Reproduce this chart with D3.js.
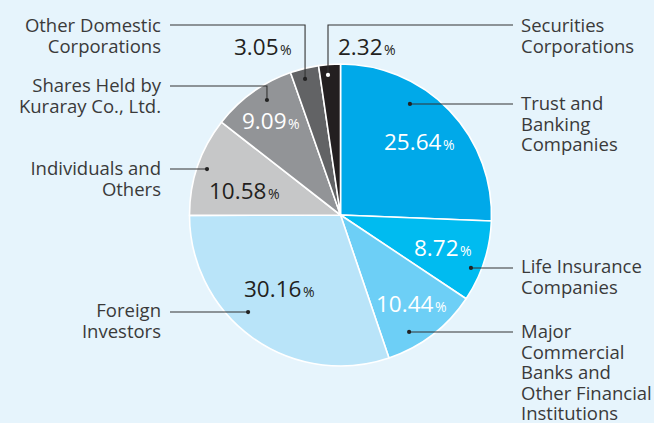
<!DOCTYPE html>
<html><head><meta charset="utf-8">
<script src="https://cdn.jsdelivr.net/npm/d3@7"></script>
<style>
html,body{margin:0;padding:0;background:#e6f4fc;}
svg{display:block;}
text{font-family:"Open Sans","Noto Sans",sans-serif;}
</style></head>
<body>
<svg id="chart" width="654" height="423"></svg>
<script>
// ---- data ----
const categories = [
  "Trust and Banking Companies",
  "Life Insurance Companies",
  "Major Commercial Banks and Other Financial Institutions",
  "Foreign Investors",
  "Individuals and Others",
  "Shares Held by Kuraray Co., Ltd.",
  "Other Domestic Corporations",
  "Securities Corporations"
];
const values = [25.64, 8.72, 10.44, 30.16, 10.58, 9.09, 3.05, 2.32];
const valueLabels = ["25.64", "8.72", "10.44", "30.16", "10.58", "9.09", "3.05", "2.32"];
const labelLines = [
  ["Trust and", "Banking", "Companies"],
  ["Life Insurance", "Companies"],
  ["Major", "Commercial", "Banks and", "Other Financial", "Institutions"],
  ["Foreign", "Investors"],
  ["Individuals and", "Others"],
  ["Shares Held by", "Kuraray Co., Ltd."],
  ["Other Domestic", "Corporations"],
  ["Securities", "Corporations"]
];
const colors = ["#00a9e9", "#00bbf0", "#6dcff6", "#b9e4f9", "#c6c7c8", "#929497", "#626365", "#231f20"];

// ---- layout (annotation positions) ----
const cx = 340.5, cy = 215, R = 151;
// dot polar positions: angle (deg, clockwise from top), radius
const dotPolar = [[32.0,131],[112.1,140.8],[149.6,135.6],[223.6,134],[289,141.2],[327.4,136.5],[345.4,140.6],[354.9,140.6]];
// label block: side, x, first baseline, leader y
const labelPos = [
  {side:"r", x:521, y:110, ly:104},
  {side:"r", x:521, y:273, ly:268},
  {side:"r", x:521, y:338, ly:332},
  {side:"l", x:161, y:317, ly:312},
  {side:"l", x:161, y:175, ly:169},
  {side:"l", x:161, y:92, ly:86},
  {side:"l", x:161, y:32, ly:25},
  {side:"r", x:521, y:32, ly:25}
];
// percent label: x, baseline, light text?
const pctPos = [[384,150,1],[414,256,1],[376,312,1],[244,297,0],[209,199,0],[242,129,1],[234,55,0],[338,55,0]];

const svg = d3.select("#chart");
const g = svg.append("g").attr("transform", `translate(${cx},${cy})`);

const pie = d3.pie().sort(null).value(d => d)(values);
const arc = d3.arc().innerRadius(0).outerRadius(R);

g.selectAll("path.slice").data(pie).join("path")
  .attr("class","slice")
  .attr("d", arc)
  .attr("fill", (d,i) => colors[i])
  .attr("stroke", "#ffffff")
  .attr("stroke-width", 1.6)
  .attr("stroke-linejoin","round");

const lineCol = "#333333", textCol = "#3a3a3a";
const dotXY = dotPolar.map(([a,r]) => {
  const t = a*Math.PI/180;
  return [cx + r*Math.sin(t), cy - r*Math.cos(t)];
});

// leaders
categories.forEach((c,i) => {
  const p = labelPos[i], [dx,dy] = dotXY[i];
  const startX = p.side === "r" ? 513 : 170;
  const path = Math.abs(dy - p.ly) > 3
    ? `M${startX},${p.ly}H${dx}V${dy}`
    : `M${startX},${p.ly}H${dx}`;
  svg.append("path").attr("d", path)
    .attr("fill","none").attr("stroke", lineCol).attr("stroke-width",1.1);
  svg.append("circle").attr("cx",dx).attr("cy",dy).attr("r",2.1)
    .attr("fill", i === 7 ? "#ffffff" : "#222222");
});

// category labels
categories.forEach((c,i) => {
  const p = labelPos[i];
  const t = svg.append("text")
    .attr("x", p.x).attr("y", p.y)
    .attr("text-anchor", p.side === "r" ? "start" : "end")
    .attr("fill", textCol)
    .attr("font-size", 18.5);
  labelLines[i].forEach((ln,k) => {
    t.append("tspan").attr("x", p.x).attr("y", p.y + k*20.5).text(ln);
  });
});

// percent labels
valueLabels.forEach((v,i) => {
  const [x,y,light] = pctPos[i];
  const t = svg.append("text").attr("x",x).attr("y",y)
    .attr("fill", light ? "#ffffff" : "#231f20");
  t.append("tspan").attr("font-size",22.5).text(v);
  t.append("tspan").attr("font-size",14).attr("dx",1.5).text("%");
});
</script>
</body></html>
